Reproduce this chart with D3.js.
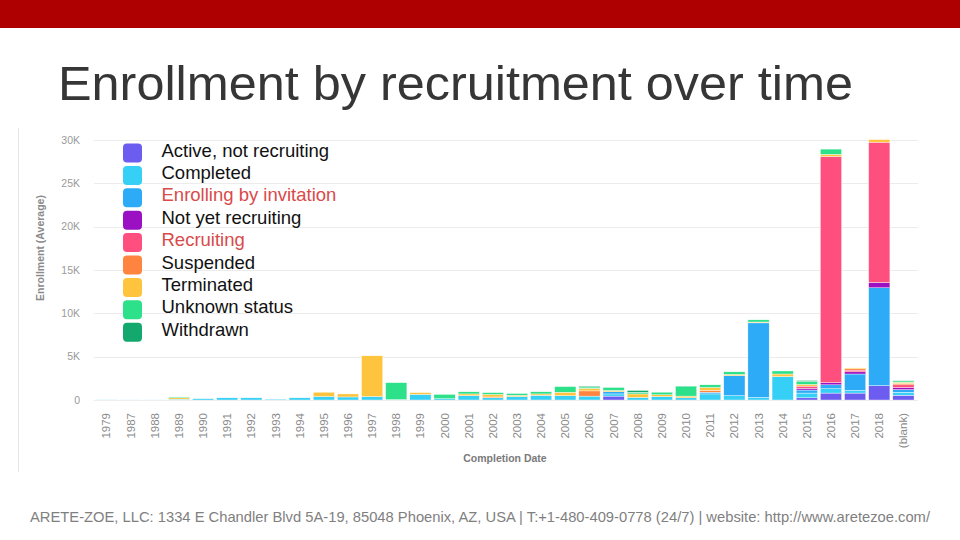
<!DOCTYPE html>
<html>
<head>
<meta charset="utf-8">
<script src="https://cdn.jsdelivr.net/npm/d3@7/dist/d3.min.js"></script>
<style>
  html, body { margin: 0; padding: 0; background: #fff; }
  svg { display: block; font-family: "Liberation Sans", Arial, sans-serif; }
</style>
</head>
<body>
<svg id="chart" width="960" height="540"></svg>
<script>
// ---- Data ----
const categories = ["1979","1987","1988","1989","1990","1991","1992","1993","1994","1995","1996","1997","1998","1999","2000","2001","2002","2003","2004","2005","2006","2007","2008","2009","2010","2011","2012","2013","2014","2015","2016","2017","2018","(blank)"];
const seriesNames = ["Active, not recruiting","Completed","Enrolling by invitation","Not yet recruiting","Recruiting","Suspended","Terminated","Unknown status","Withdrawn"];
const seriesColors = ["#6c5cf0","#36cff5","#2eabf7","#9b10c2","#ff4f7e","#ff8440","#ffc43d","#2de08a","#13a86e"];
const redLegend = ["Enrolling by invitation","Recruiting"];

const activeNotRecruiting = [0,0,0,0,0,0,0,0,0,0,0,0,0,0,0,0,0,0,0,0,0,450,0,0,0,0,0,0,0,250,800,800,1650,550];
const completed           = [20,10,10,100,150,250,250,100,250,400,350,400,50,650,150,500,250,400,550,500,450,250,300,400,250,700,500,300,2700,550,500,300,0,350];
const enrollingByInv      = [0,0,0,0,0,0,0,0,0,0,0,0,0,0,0,0,0,0,0,0,0,250,0,0,0,200,2300,8600,0,350,450,1900,11300,300];
const notYetRecruiting    = [0,0,0,0,0,0,0,0,0,0,0,0,0,0,0,0,0,0,0,0,0,0,0,0,0,0,0,0,0,200,250,250,600,250];
const recruiting          = [0,0,0,0,0,0,0,0,0,0,0,0,0,0,0,0,0,0,0,0,0,0,0,0,0,0,0,0,0,250,26100,200,16200,300];
const suspended           = [0,0,0,0,0,0,0,0,0,0,0,0,0,0,0,0,100,0,0,0,600,0,0,0,0,200,0,0,0,0,0,150,0,150];
const terminated          = [0,0,0,150,0,0,0,0,0,500,350,4700,0,200,0,200,300,150,150,400,300,150,400,200,200,350,150,100,300,200,250,100,300,150];
const unknownStatus       = [0,0,0,100,0,0,0,0,0,0,0,0,1950,0,500,250,200,200,250,650,150,350,200,300,1150,300,300,250,350,350,600,0,0,150];
const withdrawn           = [0,0,0,0,0,0,0,0,0,0,0,0,0,0,0,0,0,0,0,0,100,0,200,0,0,0,0,0,0,100,0,0,0,50];

const yTicks = [0,5000,10000,15000,20000,25000,30000];
const yTickLabels = ["0","5K","10K","15K","20K","25K","30K"];

const titleText = "Enrollment by recruitment over time";
const footerText = "ARETE-ZOE, LLC: 1334 E Chandler Blvd 5A-19, 85048 Phoenix, AZ, USA | T:+1-480-409-0778 (24/7) | website: http://www.aretezoe.com/";

// ---- Build table ----
const seriesArrays = [activeNotRecruiting, completed, enrollingByInv, notYetRecruiting, recruiting, suspended, terminated, unknownStatus, withdrawn];
const table = categories.map((c, i) => {
  const row = { cat: c };
  seriesNames.forEach((s, j) => { row[s] = seriesArrays[j][i]; });
  return row;
});

const svg = d3.select("#chart");

// header bar
svg.append("rect").attr("x", 0).attr("y", 0).attr("width", 960).attr("height", 28).attr("fill", "#ae0000");

// title
svg.append("text").attr("x", 58).attr("y", 100)
  .attr("font-size", 49).attr("fill", "#363636")
  .attr("textLength", 795).attr("lengthAdjust", "spacingAndGlyphs")
  .text(titleText);

// panel left border
svg.append("line").attr("x1", 18.5).attr("x2", 18.5).attr("y1", 128).attr("y2", 472)
  .attr("stroke", "#e6e6e6").attr("stroke-width", 1);

// scales
const x = d3.scaleBand().domain(categories).range([94.4, 915.5]).paddingInner(0.12).paddingOuter(0.06);
const y = d3.scaleLinear().domain([0, 30000]).range([400, 140]);

// gridlines
svg.append("g").selectAll("line").data(yTicks).join("line")
  .attr("x1", 94).attr("x2", 918)
  .attr("y1", d => Math.round(y(d)) + 0.5).attr("y2", d => Math.round(y(d)) + 0.5)
  .attr("stroke", "#ececec").attr("stroke-width", 1);

// y axis labels
svg.append("g").selectAll("text").data(yTicks).join("text")
  .attr("x", 80).attr("y", d => y(d) + 3.5)
  .attr("text-anchor", "end").attr("font-size", 10.5).attr("fill", "#9a9a9a")
  .text((d, i) => yTickLabels[i]);

// stacked bars
const stack = d3.stack().keys(seriesNames);
const stacked = stack(table);
const color = d3.scaleOrdinal().domain(seriesNames).range(seriesColors);

svg.append("g").selectAll("g").data(stacked).join("g")
  .attr("fill", d => color(d.key))
  .selectAll("rect").data(d => d.filter(p => p[1] - p[0] > 0)).join("rect")
  .attr("x", d => x(d.data.cat))
  .attr("width", x.bandwidth())
  .attr("y", d => y(d[1]))
  .attr("height", d => Math.max(0, y(d[0]) - y(d[1])))
  .attr("stroke", "#ffffff").attr("stroke-width", 0.4);

// x axis labels (rotated)
svg.append("g").selectAll("text").data(categories).join("text")
  .attr("transform", d => `translate(${x(d) + x.bandwidth() / 2 + 4},413) rotate(-90)`)
  .attr("text-anchor", "end").attr("font-size", 11.5).attr("fill", "#8a8a8a")
  .text(d => d);

// axis titles
svg.append("text").attr("x", 505).attr("y", 462)
  .attr("text-anchor", "middle").attr("font-size", 10.5).attr("font-weight", "bold").attr("fill", "#7a7a7a")
  .text("Completion Date");

svg.append("text").attr("transform", "translate(44,248) rotate(-90)")
  .attr("text-anchor", "middle").attr("font-size", 10.5).attr("font-weight", "bold").attr("fill", "#8a8a8a")
  .text("Enrollment (Average)");

// legend
const legend = svg.append("g").selectAll("g").data(seriesNames).join("g")
  .attr("transform", (d, i) => `translate(123,${153 + i * 22.4})`);
legend.append("rect").attr("x", 0).attr("y", -9.5).attr("width", 19).attr("height", 19).attr("rx", 4)
  .attr("fill", d => color(d));
legend.append("text").attr("x", 38.5).attr("y", 3.5)
  .attr("font-size", 18.5).attr("fill", d => redLegend.includes(d) ? "#d94a4a" : "#111")
  .text(d => d);

// footer
svg.append("text").attr("x", 30).attr("y", 522)
  .attr("font-size", 14.5).attr("fill", "#7f7f7f")
  .attr("textLength", 900).attr("lengthAdjust", "spacingAndGlyphs")
  .text(footerText);
</script>
</body>
</html>
